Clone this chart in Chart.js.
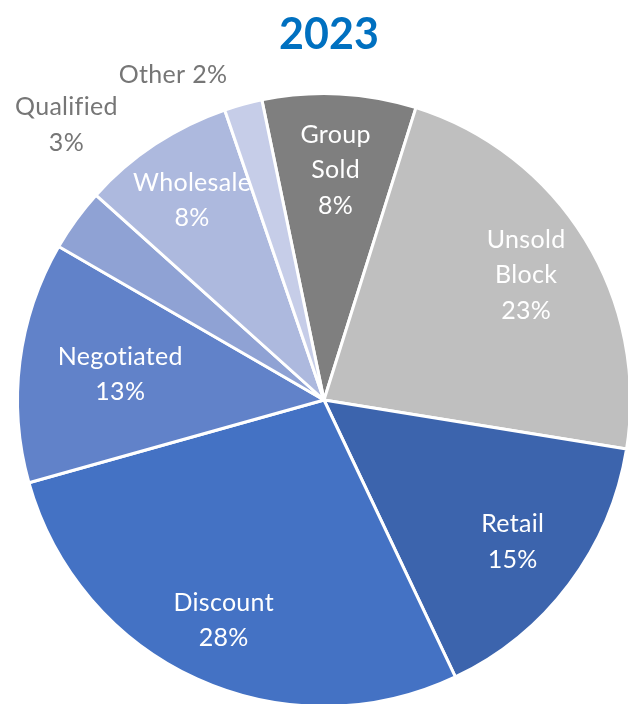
<!DOCTYPE html>
<html>
<head>
<meta charset="utf-8">
<script src="https://cdn.jsdelivr.net/npm/chart.js@4"></script>
<style>
  html, body { margin: 0; padding: 0; background: #fff; overflow: hidden; }
  #wrap { position: absolute; left: 0; top: 0; width: 632px; height: 712px; }
</style>
</head>
<body>
<div id="wrap"><canvas id="pieCanvas" width="632" height="712"></canvas></div>
<script>
// Data (clockwise from the top)
const categories = ['Group Sold', 'Unsold Block', 'Retail', 'Discount', 'Negotiated', 'Qualified', 'Wholesale', 'Other'];
const shares = [8.1, 22.7, 15.4, 27.7, 12.7, 3.3, 8.1, 2.0];
const sliceColors = ['#7f7f7f', '#bfbfbf', '#3c64ad', '#4472c4', '#6182c9', '#8fa2d4', '#adb9de', '#c6cde8'];
const chartYear = '2023';

// Label placement: fraction of radius, plus angle nudge (deg) for outside labels
const labelPlacement = [
    { r: 0.75 }, { r: 0.775 }, { r: 0.77 }, { r: 0.79 }, { r: 0.67 },
    { r: 1.23, shift: -10.9, outside: true },
    { r: 0.78 },
    { r: 1.17, shift: 9.6, outside: true, oneLine: true }
];

const sliceLabels = {
    id: 'sliceLabels',
    afterDraw(chart) {
        const ctx = chart.ctx;
        const arcs = chart.getDatasetMeta(0).data;
        const total = shares.reduce((a, b) => a + b, 0);
        ctx.save();
        ctx.textAlign = 'center';
        ctx.textBaseline = 'middle';
        ctx.font = '25px Lato';
        ctx.letterSpacing = '0.3px'; // also keeps Lato from joining "ti"/"fi"
        arcs.forEach((arc, i) => {
            const p = labelPlacement[i];
            const mid = (arc.startAngle + arc.endAngle) / 2 - (p.shift || 0) * Math.PI / 180;
            const x = arc.x + Math.cos(mid) * arc.outerRadius * p.r;
            const y = arc.y + Math.sin(mid) * arc.outerRadius * p.r;
            const pct = Math.round(shares[i] / total * 100) + '%';
            let lines;
            if (p.oneLine) {
                lines = [categories[i] + ' ' + pct];
            } else {
                lines = categories[i].split(' ').concat([pct]);
            }
            ctx.fillStyle = p.outside ? '#767676' : '#ffffff';
            const lh = 35.5;
            lines.forEach((t, k) => {
                ctx.fillText(t, x, y + (k - (lines.length - 1) / 2) * lh);
            });
        });
        // title
        ctx.letterSpacing = '0px';
        ctx.font = 'bold 43px Lato';
        ctx.fillStyle = '#0070c0';
        ctx.textBaseline = 'alphabetic';
        ctx.fillText(chartYear, 329, 49);
        ctx.restore();
    }
};

const ctx = document.getElementById('pieCanvas').getContext('2d');
new Chart(ctx, {
    type: 'pie',
    data: {
        labels: categories,
        datasets: [{
            data: shares,
            backgroundColor: sliceColors,
            borderColor: '#ffffff',
            borderWidth: 3
        }]
    },
    options: {
        responsive: false,
        animation: false,
        rotation: -11.7,
        layout: { padding: { top: 92, left: 16, right: 0, bottom: 4 } },
        plugins: {
            legend: { display: false },
            tooltip: { enabled: false },
            title: { display: false }
        }
    },
    plugins: [sliceLabels]
});
</script>
</body>
</html>
